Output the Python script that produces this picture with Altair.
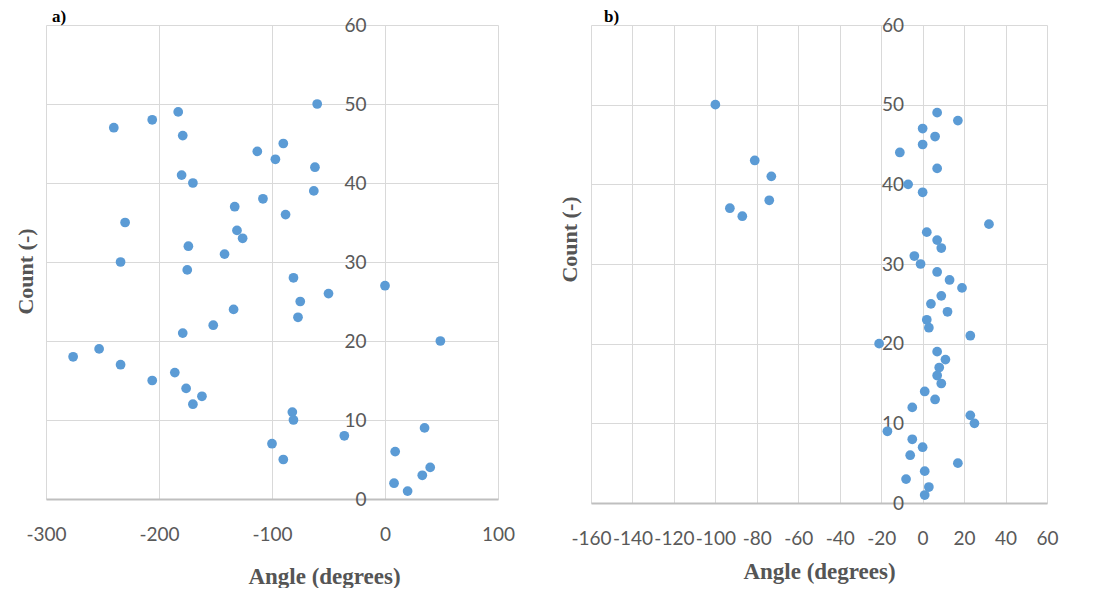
import altair as alt
import pandas as pd

# Panel a)
a_angle = [-60, -240, -206, -183, -179, -113, -90, -97, -62, -180, -170, -63, -108, -133, -88,
           -230, -131, -126, -174, -142, -234, -175, -81, 0, -50, -75, -134, -77, -152, -179,
           49, -253, -276, -234, -186, -206, -176, -162, -170, -82, -81, 35, -36, -100, 9,
           -90, 40, 33, 8, 20]
a_count = [50, 47, 48, 49, 46, 44, 45, 43, 42, 41, 40, 39, 38, 37, 36,
           35, 34, 33, 32, 31, 30, 29, 28, 27, 26, 25, 24, 23, 22, 21,
           20, 19, 18, 17, 16, 15, 14, 13, 12, 11, 10, 9, 8, 7, 6,
           5, 4, 3, 2, 1]

# Panel b)
b_angle = [-100, 7, 17, 0, 6, 0, -11, -81, 7, -73, -7, 0, -74, -93, -87,
           32, 2, 7, 9, -4, -1, 7, 13, 19, 9, 4, 12, 2, 3, 23,
           -21, 7, 11, 8, 7, 9, 1, 6, -5, 23, 25, -17, -5, 0, -6,
           17, 1, -8, 3, 1]
b_count = [50, 49, 48, 47, 46, 45, 44, 43, 42, 41, 40, 39, 38, 37, 36,
           35, 34, 33, 32, 31, 30, 29, 28, 27, 26, 25, 24, 23, 22, 21,
           20, 19, 18, 17, 16, 15, 14, 13, 12, 11, 10, 9, 8, 7, 6,
           5, 4, 3, 2, 1]

a_xticks = [-300, -200, -100, 0, 100]
b_xticks = [-160, -140, -120, -100, -80, -60, -40, -20, 0, 20, 40, 60]
y_ticks = [0, 10, 20, 30, 40, 50, 60]

df_a = pd.DataFrame({"angle": a_angle, "count": a_count})
df_b = pd.DataFrame({"angle": b_angle, "count": b_count})

LABEL_FONT = "Lato"
TITLE_FONT = "Liberation Serif"
LABEL_COLOR = "#595959"
TITLE_COLOR = "#555555"
GRID = "#d9d9d9"
BLUE = "#5b9bd5"


def panel(df, xdom, xticks, w, h, label, title_dx, xtitle_x, xtitle_y, ytitle_x, ytitle_y):
    ypos = (0 - xdom[0]) / (xdom[1] - xdom[0]) * w
    return alt.Chart(df).mark_circle(size=95, opacity=1, color=BLUE).encode(
        x=alt.X("angle:Q",
                scale=alt.Scale(domain=xdom, nice=False, zero=False),
                axis=alt.Axis(values=xticks, title="Angle (degrees)", grid=True,
                              gridColor=GRID, gridWidth=1, ticks=False,
                              domain=True, domainColor="#bfbfbf", domainWidth=2,
                              labelExpr="'' + datum.value", labelOverlap=False,
                              labelFont=LABEL_FONT, labelFontSize=19, labelColor=LABEL_COLOR,
                              labelPadding=26, labelFlush=False,
                              titleFont=TITLE_FONT, titleFontSize=23, titleFontWeight="bold",
                              titleColor=TITLE_COLOR, titleX=xtitle_x, titleY=xtitle_y,
                              titleBaseline="middle")),
        y=alt.Y("count:Q",
                scale=alt.Scale(domain=[0, 60], nice=False),
                axis=alt.Axis(values=y_ticks, title="Count (-)", grid=True,
                              gridColor=GRID, gridWidth=1, ticks=False, domain=False,
                              offset=-ypos, labelOverlap=False,
                              labelFont=LABEL_FONT, labelFontSize=19, labelColor=LABEL_COLOR,
                              labelPadding=19, labelFlush=False,
                              titleFont=TITLE_FONT, titleFontSize=22, titleFontWeight="bold",
                              titleColor=TITLE_COLOR, titleX=ytitle_x - ypos, titleY=ytitle_y,
                              titleBaseline="middle")),
    ).properties(
        width=w, height=h,
        title=alt.TitleParams(label, anchor="start", frame="group", font=TITLE_FONT,
                              fontSize=17, fontWeight="bold", color="black",
                              offset=-10, dx=title_dx),
    )


pa = panel(df_a, [-300, 100], a_xticks, 452, 474, "a)", 6, 278, 77, -21, 246)
pb = panel(df_b, [-160, 60], b_xticks, 456, 478, "b)", 13, 228, 68, -22, 214)

chart = alt.hconcat(pa, pb, spacing=43).properties(
    padding={"left": 6, "top": 0, "right": 0, "bottom": 0}
).configure_view(stroke=None)

chart.save("out.html", embed_options={"renderer": "svg", "actions": False})
